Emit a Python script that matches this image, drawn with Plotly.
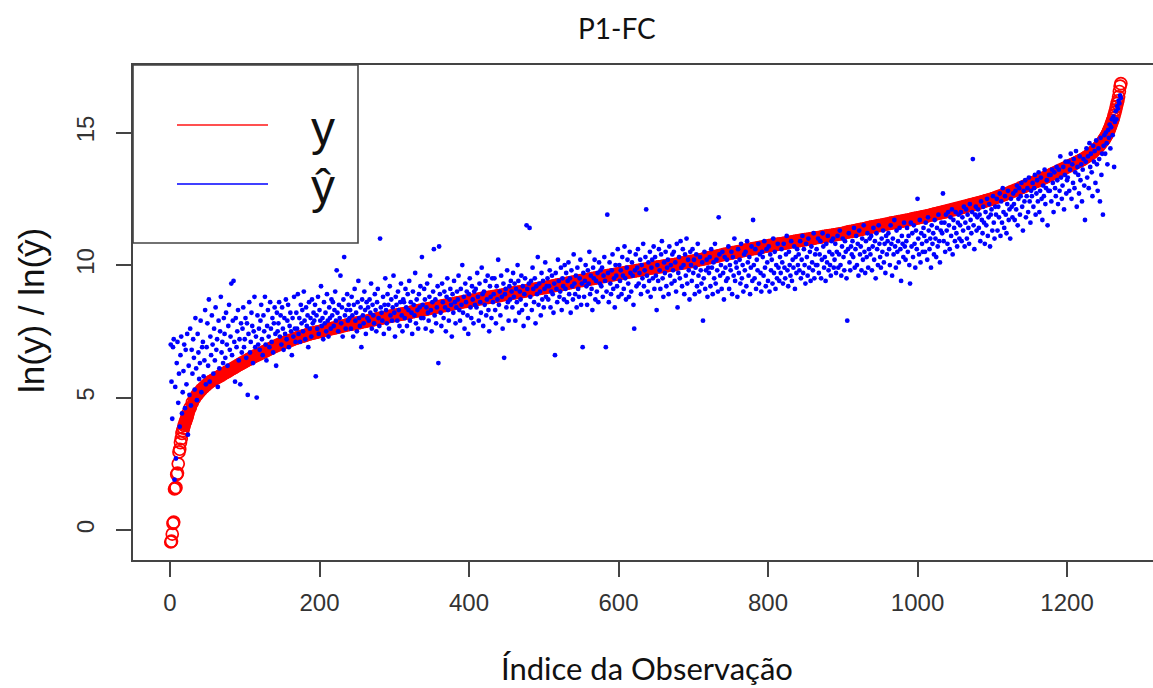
import plotly.graph_objects as go

# ---------------- data ----------------
# observed ln(y), sorted; head: obs 1..24, body: obs 27..1248 every 3rd, tail: obs 1249..1272
y_head = [-0.45, -0.42, -0.15, 0.25, 0.3, 1.55, 1.58, 1.6, 2.1, 2.15, 2.5, 2.95,
          3.05, 3.3, 3.45, 3.65, 3.75, 3.85, 3.95, 4.05, 4.12, 4.2, 4.28, 4.4]
y_body = [
    4.62, 4.82, 4.98, 5.1, 5.2, 5.3, 5.38, 5.46, 5.53, 5.6, 5.65, 5.7, 5.75, 5.8, 5.85, 5.9, 5.95,
    6.0, 6.05, 6.1, 6.15, 6.2, 6.25, 6.3, 6.35, 6.39, 6.44, 6.48, 6.53, 6.57, 6.61, 6.65, 6.69, 6.73,
    6.77, 6.82, 6.86, 6.9, 6.94, 6.98, 7.02, 7.05, 7.08, 7.11, 7.14, 7.17, 7.2, 7.23, 7.26, 7.29, 7.32,
    7.34, 7.37, 7.4, 7.42, 7.44, 7.46, 7.48, 7.5, 7.52, 7.54, 7.56, 7.58, 7.6, 7.62, 7.64, 7.66, 7.68,
    7.7, 7.72, 7.74, 7.76, 7.77, 7.79, 7.81, 7.82, 7.84, 7.86, 7.87, 7.89, 7.91, 7.92, 7.94, 7.96, 7.98,
    8.0, 8.01, 8.03, 8.05, 8.06, 8.08, 8.1, 8.11, 8.13, 8.15, 8.16, 8.18, 8.2, 8.21, 8.23, 8.25, 8.27,
    8.28, 8.3, 8.32, 8.33, 8.35, 8.37, 8.38, 8.4, 8.42, 8.43, 8.45, 8.47, 8.48, 8.5, 8.52, 8.53, 8.55,
    8.57, 8.58, 8.6, 8.62, 8.63, 8.65, 8.66, 8.68, 8.69, 8.71, 8.72, 8.74, 8.75, 8.77, 8.78, 8.79, 8.81,
    8.82, 8.84, 8.85, 8.87, 8.88, 8.9, 8.91, 8.93, 8.94, 8.96, 8.97, 8.99, 9.0, 9.02, 9.03, 9.05, 9.06,
    9.08, 9.09, 9.11, 9.12, 9.14, 9.15, 9.17, 9.18, 9.2, 9.22, 9.23, 9.25, 9.26, 9.28, 9.29, 9.31, 9.33,
    9.35, 9.36, 9.38, 9.39, 9.41, 9.42, 9.44, 9.45, 9.47, 9.49, 9.5, 9.52, 9.53, 9.55, 9.56, 9.58, 9.6,
    9.61, 9.63, 9.64, 9.66, 9.67, 9.69, 9.7, 9.72, 9.73, 9.74, 9.76, 9.77, 9.79, 9.8, 9.82, 9.83, 9.85,
    9.86, 9.88, 9.89, 9.9, 9.92, 9.93, 9.94, 9.96, 9.97, 9.98, 10.0, 10.01, 10.02, 10.04, 10.05, 10.07, 10.08,
    10.1, 10.11, 10.13, 10.14, 10.16, 10.18, 10.2, 10.21, 10.23, 10.25, 10.27, 10.29, 10.3, 10.32, 10.34, 10.36, 10.38,
    10.4, 10.41, 10.43, 10.45, 10.47, 10.48, 10.5, 10.52, 10.53, 10.55, 10.57, 10.58, 10.6, 10.62, 10.63, 10.65, 10.67,
    10.68, 10.7, 10.71, 10.73, 10.74, 10.76, 10.77, 10.79, 10.8, 10.81, 10.83, 10.84, 10.86, 10.87, 10.89, 10.9, 10.91,
    10.93, 10.94, 10.96, 10.97, 10.98, 11.0, 11.01, 11.03, 11.04, 11.05, 11.07, 11.08, 11.1, 11.11, 11.12, 11.14, 11.15,
    11.17, 11.18, 11.2, 11.22, 11.24, 11.26, 11.27, 11.29, 11.31, 11.33, 11.35, 11.36, 11.38, 11.4, 11.42, 11.44, 11.45,
    11.47, 11.49, 11.5, 11.52, 11.54, 11.55, 11.57, 11.59, 11.6, 11.62, 11.64, 11.65, 11.67, 11.69, 11.7, 11.72, 11.74,
    11.76, 11.77, 11.79, 11.81, 11.83, 11.84, 11.86, 11.88, 11.9, 11.92, 11.94, 11.96, 11.98, 12.0, 12.02, 12.04, 12.06,
    12.08, 12.1, 12.12, 12.14, 12.17, 12.19, 12.21, 12.24, 12.26, 12.28, 12.31, 12.33, 12.35, 12.38, 12.4, 12.43, 12.45,
    12.48, 12.51, 12.54, 12.57, 12.6, 12.63, 12.66, 12.69, 12.72, 12.76, 12.79, 12.83, 12.86, 12.9, 12.93, 12.97, 13.01,
    13.04, 13.08, 13.11, 13.15, 13.18, 13.22, 13.26, 13.3, 13.34, 13.38, 13.42, 13.46, 13.5, 13.54, 13.58, 13.62, 13.66,
    13.7, 13.74, 13.78, 13.82, 13.86, 13.9, 13.94, 13.99, 14.04, 14.1, 14.16, 14.22, 14.3, 14.38, 14.46, 14.56, 14.68,
]
y_tail = [14.72, 14.76, 14.8, 14.85, 14.9, 14.96, 15.02, 15.08, 15.15, 15.22, 15.3, 15.38,
          15.46, 15.55, 15.65, 15.75, 15.86, 15.98, 16.1, 16.2, 16.35, 16.55, 16.75, 16.85]

# predicted ln(y-hat) for observations 1..1272
yhat = [
    7.0, 5.6, 4.2, 6.9, 7.2, 1.9, 5.4, 2.7, 6.3, 7.1, 4.8, 5.9, 3.9, 6.6, 7.3, 4.4, 5.2, 6.0, 7.0, 4.6, 6.8, 5.5, 7.4, 3.6,
    6.2, 5.1, 7.6, 4.7, 6.8, 5.9, 7.2, 6.5, 5.3, 8.0, 6.1, 4.9, 7.4, 6.7, 5.7, 6.3, 7.9, 5.2, 6.9, 7.1, 5.8, 6.4, 8.3, 5.5,
    6.9, 7.8, 6.2, 8.7, 5.6, 7.3, 6.6, 8.1, 7.0, 5.9, 7.6, 6.4, 8.4, 6.8, 7.2, 5.4, 7.9, 6.1, 7.5, 8.8, 6.7, 7.1, 6.3, 8.0,
    7.4, 6.5, 8.2, 7.0, 6.2, 7.7, 8.5, 6.8, 7.3, 9.3, 6.6, 7.9, 9.4, 7.1, 5.6, 8.0, 6.9, 7.5, 8.3, 6.4, 7.2, 5.5, 7.8, 6.7,
    7.6, 8.4, 6.9, 7.2, 8.0, 6.5, 7.8, 5.1, 7.4, 8.6, 6.7, 7.1, 8.2, 7.7, 6.3, 7.5, 8.8, 6.9, 7.3, 5.0, 8.1, 7.0, 7.6, 6.8,
    7.9, 8.5, 7.2, 6.6, 8.1, 7.5, 8.8, 7.0, 6.4, 7.7, 8.3, 7.3, 6.9, 8.6, 7.6, 7.1, 8.0, 6.7, 7.8, 8.4, 7.4, 6.2, 8.2, 7.5,
    7.8, 8.6, 7.3, 8.1, 7.0, 8.4, 7.6, 6.8, 8.0, 7.4, 8.7, 7.2, 7.9, 8.5, 6.9, 7.7, 8.2, 7.5, 6.6, 8.0, 7.3, 8.8, 7.6, 7.1,
    8.2, 7.6, 8.9, 7.4, 8.0, 7.1, 8.5, 7.8, 8.3, 7.5, 9.0, 7.9, 7.2, 8.4, 7.7, 8.1, 6.9, 8.6, 7.6, 8.0, 7.3, 8.7, 7.8, 8.2,
    7.9, 8.5, 5.8, 8.1, 7.6, 8.8, 7.4, 8.3, 7.9, 9.2, 7.7, 8.0, 7.2, 8.6, 7.8, 8.2, 7.5, 8.9, 7.9, 7.3, 8.4, 8.0, 7.6, 8.7,
    8.1, 8.6, 7.7, 8.3, 9.0, 7.9, 9.8, 8.2, 7.5, 8.5, 8.0, 9.6, 7.8, 8.4, 7.3, 8.7, 10.3, 8.1, 7.6, 8.3, 8.9, 7.9, 8.5, 8.0,
    8.3, 7.6, 8.8, 8.1, 7.3, 8.5, 9.1, 7.9, 8.2, 7.5, 8.6, 9.4, 8.0, 7.7, 8.4, 6.9, 8.7, 8.1, 7.8, 9.0, 8.3, 7.4, 8.6, 8.0,
    8.4, 7.9, 8.7, 8.2, 9.3, 7.6, 8.5, 8.1, 7.8, 8.9, 8.3, 7.5, 8.6, 9.1, 8.0, 7.7, 11.0, 8.4, 8.2, 7.9, 8.8, 7.4, 8.5, 9.5,
    8.3, 7.8, 8.9, 8.5, 7.6, 9.2, 8.1, 8.7, 7.9, 8.4, 9.6, 8.2, 7.3, 8.8, 8.5, 7.9, 9.0, 8.3, 7.7, 8.6, 9.3, 8.1, 7.5, 8.7,
    8.6, 8.0, 9.1, 8.4, 7.7, 8.9, 8.3, 9.4, 7.9, 8.6, 8.2, 7.4, 9.0, 8.5, 8.1, 9.7, 7.8, 8.7, 8.3, 7.6, 8.9, 8.4, 9.2, 8.0,
    10.3, 8.5, 8.0, 9.1, 8.7, 7.6, 8.4, 9.3, 8.2, 7.9, 8.8, 9.6, 8.3, 7.5, 8.6, 9.0, 10.6, 8.1, 8.7, 7.8, 8.4, 9.2, 6.3, 10.7,
    8.9, 8.2, 7.7, 9.3, 8.6, 8.0, 9.0, 8.4, 7.5, 8.8, 9.5, 8.3, 7.9, 8.7, 9.1, 8.5, 7.3, 8.9, 8.2, 9.4, 8.6, 7.8, 8.4, 9.0,
    8.7, 9.6, 8.3, 7.9, 9.1, 8.5, 10.0, 8.2, 8.8, 7.6, 9.3, 8.6, 9.0, 8.1, 7.4, 8.9, 9.5, 8.4, 8.0, 9.2, 8.7, 7.8, 9.0, 8.5,
    9.1, 8.4, 9.7, 8.8, 7.9, 9.3, 8.6, 8.2, 9.9, 8.9, 7.7, 9.0, 8.5, 9.4, 8.1, 8.7, 9.6, 8.3, 7.5, 9.2, 8.8, 8.0, 9.5, 8.6,
    8.9, 9.5, 8.3, 7.8, 9.2, 8.7, 10.2, 8.5, 9.0, 8.1, 9.6, 8.8, 7.6, 9.3, 6.5, 8.9, 9.1, 8.4, 9.8, 8.6, 7.9, 9.2, 8.7, 9.4,
    9.0, 8.4, 9.7, 8.8, 9.3, 7.9, 9.1, 8.6, 10.0, 9.4, 8.2, 9.0, 8.7, 9.6, 8.3, 9.2, 7.7, 8.9, 9.5, 8.5, 11.5, 9.1, 8.0, 9.3,
    11.4, 8.8, 9.4, 8.3, 9.9, 9.1, 8.6, 9.5, 7.8, 9.2, 8.9, 10.3, 8.5, 9.3, 9.0, 8.1, 9.7, 8.7, 9.4, 8.4, 9.1, 10.1, 8.8, 9.2,
    9.5, 8.7, 9.2, 9.8, 8.4, 9.0, 9.6, 8.9, 8.2, 9.3, 6.6, 9.7, 9.1, 8.6, 10.2, 9.4, 8.8, 9.0, 9.9, 8.3, 9.5, 9.2, 8.7, 10.0,
    9.1, 9.7, 8.6, 9.4, 10.1, 8.9, 9.5, 8.2, 9.8, 9.2, 8.7, 10.4, 9.3, 8.9, 9.6, 8.4, 9.9, 9.1, 8.8, 9.5, 10.2, 8.5, 9.3, 6.9,
    9.7, 8.8, 9.4, 10.0, 9.2, 8.5, 9.8, 9.3, 10.5, 8.9, 9.6, 9.1, 8.3, 9.9, 9.5, 10.2, 8.7, 9.4, 9.0, 9.7, 8.6, 10.1, 9.3, 9.8,
    9.2, 9.9, 8.8, 9.6, 10.3, 9.4, 6.9, 9.0, 11.9, 9.7, 8.6, 10.1, 9.3, 8.9, 9.8, 10.4, 9.1, 9.5, 8.4, 10.0, 9.6, 9.2, 10.6, 8.8,
    10.0, 9.4, 9.8, 8.9, 10.3, 9.6, 9.1, 10.7, 9.5, 8.7, 9.9, 10.2, 9.3, 8.8, 10.5, 9.7, 9.0, 10.1, 9.6, 8.5, 7.6, 9.8, 10.4, 9.2,
    9.9, 10.6, 9.3, 9.7, 10.2, 8.9, 10.0, 9.5, 10.8, 9.2, 9.8, 10.3, 12.1, 9.6, 9.0, 10.1, 9.4, 10.5, 8.8, 9.9, 10.2, 9.5, 10.7, 9.1,
    10.3, 9.6, 8.3, 10.0, 9.4, 10.6, 9.8, 9.1, 10.4, 10.9, 9.5, 8.8, 10.1, 9.7, 10.5, 9.2, 9.9, 10.2, 8.9, 10.7, 9.6, 10.0, 9.3, 10.4,
    9.8, 10.5, 9.4, 10.1, 9.0, 10.8, 8.4, 9.7, 10.3, 9.5, 10.9, 9.9, 9.2, 10.6, 10.0, 8.9, 10.4, 9.6, 11.0, 9.3, 10.2, 9.8, 8.7, 10.5,
    10.0, 9.4, 10.6, 9.7, 10.2, 8.9, 9.9, 10.4, 9.2, 10.8, 9.6, 9.0, 10.3, 9.8, 9.3, 10.1, 7.9, 9.5, 10.5, 9.1, 9.8, 10.2, 8.8, 9.9,
    9.7, 10.3, 9.2, 10.6, 9.9, 8.9, 10.1, 9.5, 10.8, 9.3, 10.2, 9.8, 9.0, 11.8, 10.4, 9.6, 10.0, 9.1, 10.5, 9.7, 8.7, 10.3, 9.9, 9.4,
    10.2, 9.5, 10.7, 9.1, 10.0, 9.8, 10.5, 8.9, 10.3, 9.6, 11.0, 9.4, 10.1, 9.9, 8.8, 10.6, 9.7, 10.2, 9.3, 10.8, 9.5, 10.0, 9.0, 10.4,
    9.8, 10.5, 9.2, 10.9, 10.1, 9.6, 10.3, 8.9, 9.9, 10.7, 9.4, 11.7, 10.0, 9.5, 10.6, 9.1, 10.2, 9.8, 10.8, 9.3, 10.4, 9.7, 9.0, 10.5,
    10.3, 9.6, 10.9, 9.9, 9.2, 10.6, 10.1, 9.4, 10.7, 9.0, 10.4, 9.8, 10.2, 9.3, 11.0, 9.7, 10.5, 9.1, 10.0, 9.5, 10.8, 9.9, 9.4, 10.3,
    9.7, 10.6, 10.1, 9.3, 10.8, 9.9, 9.5, 10.4, 11.1, 9.8, 9.2, 10.5, 10.0, 9.6, 10.9, 9.4, 10.2, 9.9, 10.7, 9.1, 10.3, 9.7, 10.6, 10.0,
    10.4, 9.8, 10.9, 9.5, 10.2, 11.1, 9.7, 10.6, 10.0, 9.3, 10.8, 10.3, 9.6, 11.0, 9.9, 10.5, 9.4, 10.7, 10.1, 9.8, 11.2, 9.5, 10.4, 10.0,
    10.6, 10.0, 11.0, 9.7, 10.4, 10.9, 9.5, 10.2, 11.2, 10.7, 9.9, 10.3, 9.4, 10.8, 10.1, 11.1, 9.8, 10.5, 10.0, 9.6, 10.9, 10.4, 11.0, 9.9,
    10.2, 10.8, 9.7, 10.5, 11.1, 9.9, 10.4, 11.3, 10.0, 9.6, 10.7, 11.0, 10.3, 9.8, 10.9, 10.5, 9.5, 7.9, 10.6, 11.2, 10.1, 9.8, 10.7, 10.4,
    10.9, 10.3, 11.4, 9.9, 10.6, 11.1, 10.0, 10.8, 9.6, 11.3, 10.4, 10.7, 9.8, 11.0, 10.2, 11.5, 10.5, 9.7, 10.9, 10.3, 11.2, 9.9, 10.6, 11.0,
    10.4, 11.1, 9.8, 10.7, 11.4, 10.2, 10.9, 9.5, 11.2, 10.6, 10.0, 11.5, 10.8, 10.3, 9.9, 11.0, 10.5, 11.3, 10.1, 10.8, 9.7, 11.1, 10.4, 10.9,
    11.2, 10.6, 10.0, 11.5, 10.8, 9.6, 11.0, 10.4, 11.7, 10.7, 9.9, 11.3, 10.5, 10.9, 10.1, 11.4, 10.6, 9.4, 11.1, 10.8, 10.3, 11.6, 10.7, 10.2,
    10.9, 11.4, 10.5, 11.1, 10.0, 9.3, 11.6, 10.7, 11.2, 10.3, 11.5, 10.8, 9.9, 11.3, 10.6, 12.5, 11.0, 10.4, 11.7, 10.1, 11.2, 10.8, 10.5, 11.4,
    11.1, 10.5, 11.6, 10.9, 10.2, 11.8, 11.3, 10.6, 11.0, 9.9, 11.5, 10.8, 11.2, 10.4, 11.7, 11.0, 10.3, 11.4, 10.7, 11.9, 10.9, 10.1, 11.3, 11.6,
    11.2, 12.7, 10.9, 11.6, 10.5, 11.9, 11.3, 10.8, 12.0, 11.5, 10.6, 11.8, 11.1, 12.1, 10.4, 11.7, 11.4, 10.9, 12.0, 11.2, 10.7, 11.6, 11.9, 11.0,
    11.5, 12.0, 10.9, 11.8, 11.3, 12.2, 10.7, 11.6, 12.1, 11.0, 11.9, 11.4, 10.8, 12.3, 11.7, 11.2, 12.0, 14.0, 11.5, 10.6, 11.9, 12.2, 11.3, 11.8,
    12.1, 11.4, 11.9, 10.9, 12.4, 11.7, 11.2, 12.2, 11.6, 10.8, 12.0, 11.5, 12.5, 11.1, 11.8, 12.3, 10.7, 11.9, 12.1, 11.3, 12.6, 11.6, 11.0, 12.2,
    11.9, 12.5, 11.3, 12.2, 11.8, 12.7, 11.1, 12.4, 11.6, 12.9, 12.0, 11.4, 12.6, 11.9, 11.2, 12.3, 12.8, 11.7, 12.1, 11.0, 12.5, 12.2, 11.8, 12.7,
    12.3, 11.7, 12.8, 12.1, 13.0, 11.5, 12.5, 12.9, 11.9, 12.6, 13.1, 12.2, 11.3, 12.8, 12.4, 13.2, 11.8, 12.6, 12.9, 12.0, 13.3, 12.4, 11.6, 12.8,
    12.6, 13.1, 12.2, 12.9, 13.4, 11.9, 12.7, 13.2, 12.4, 13.5, 12.0, 12.8, 13.3, 12.5, 11.7, 13.0, 12.6, 13.6, 12.3, 12.9, 13.2, 11.5, 12.8, 13.4,
    12.8, 13.4, 12.4, 13.6, 13.1, 12.0, 13.5, 12.9, 12.6, 13.7, 13.2, 12.3, 13.6, 12.8, 14.1, 13.3, 12.5, 13.0, 13.7, 12.1, 13.4, 13.9, 12.7, 13.2,
    13.3, 13.9, 12.8, 13.6, 14.2, 12.5, 13.8, 13.1, 14.0, 12.9, 13.5, 14.3, 12.2, 13.7, 13.4, 12.7, 14.1, 13.2, 13.8, 12.4, 13.6, 14.0, 13.0, 11.7,
    13.9, 14.4, 13.3, 14.1, 12.9, 14.6, 13.7, 14.2, 13.5, 12.6, 14.5, 13.9, 14.3, 13.1, 14.7, 13.8, 12.8, 14.4, 14.0, 12.4, 14.8, 13.4, 14.2, 11.9,
    14.5, 14.9, 14.2, 15.0, 14.6, 13.8, 15.1, 14.8, 15.3, 14.4, 15.2, 15.5, 14.9, 15.6, 13.7, 15.4, 15.8, 15.5, 16.0, 15.9, 16.2, 16.1, 16.4, 16.3,
]

x_ticks = [0, 200, 400, 600, 800, 1000, 1200]
y_ticks = [0, 5, 10, 15]
title_text = "P1-FC"
x_title = "Índice da Observação"
y_title = "ln(y) / ln(ŷ)"
legend_labels = ["y", "ŷ"]

# ---------------- indices ----------------
idx_head = list(range(1, 1 + len(y_head)))
idx_body = [27 + 3 * i for i in range(len(y_body))]
idx_tail = list(range(1249, 1249 + len(y_tail)))
obs_x = idx_head + idx_body + idx_tail
obs_y = y_head + y_body + y_tail
band = [(a, b) for a, b in zip(obs_x, obs_y) if 17 <= a <= 1262]
pred_x = list(range(1, len(yhat) + 1))

# ---------------- layout helpers ----------------
W, H = 1153, 688
L, R, T, B = 133, 1153, 65, 560


def px(p):
    return (p - L) / (R - L)


def py(p):
    return (B - p) / (B - T)


RED = "#FF0000"
BLUE = "#0000FF"
AX = "#444444"

fig = go.Figure()
fig.add_trace(go.Scatter(x=[a for a, _ in band], y=[b for _, b in band], mode="lines",
                         line=dict(color=RED, width=11), hoverinfo="skip", showlegend=False))
fig.add_trace(go.Scatter(x=obs_x, y=obs_y, mode="markers",
                         marker=dict(symbol="circle-open", size=12, color=RED, line=dict(width=1.7)),
                         hoverinfo="skip", showlegend=False))
fig.add_trace(go.Scatter(x=pred_x, y=yhat, mode="markers",
                         marker=dict(symbol="circle", size=4.8, color=BLUE, line=dict(width=0)),
                         hoverinfo="skip", showlegend=False))

tickfont = dict(family="Liberation Sans, Arial, sans-serif", size=24, color="#333333")
fig.update_xaxes(range=[-49.5, 1315], tickvals=x_ticks, ticks="outside", ticklen=15, tickwidth=1.6,
                 tickcolor=AX, showline=True, linecolor=AX, linewidth=1.6, mirror=True,
                 showgrid=False, zeroline=False, tickfont=tickfont, ticklabelstandoff=5)
fig.update_yaxes(range=[-1.13, 17.55], tickvals=y_ticks, ticks="outside", ticklen=15, tickwidth=1.6,
                 tickcolor=AX, showline=True, linecolor=AX, linewidth=1.6, mirror=False,
                 showgrid=False, zeroline=False, tickfont=tickfont, tickangle=-90, ticklabelstandoff=13)

shapes = [
    dict(type="rect", xref="paper", yref="paper", x0=px(133), x1=px(358), y0=py(243), y1=py(65),
         line=dict(color=AX, width=1.6), fillcolor="white", layer="above"),
    dict(type="line", xref="paper", yref="paper", x0=px(177), x1=px(268), y0=py(125), y1=py(125),
         line=dict(color="#FF5050", width=2.2), layer="above"),
    dict(type="line", xref="paper", yref="paper", x0=px(177), x1=px(268), y0=py(184), y1=py(184),
         line=dict(color="#4040FF", width=2.2), layer="above"),
]

calib = "Lato, Carlito, Calibri, sans-serif"
annotations = [
    dict(text=title_text, xref="paper", yref="paper", x=px(617), y=py(28), xanchor="center", yanchor="middle",
         showarrow=False, font=dict(family=calib, size=28, color="#111111")),
    dict(text=x_title, xref="paper", yref="paper", x=px(647), y=py(668), xanchor="center", yanchor="middle",
         showarrow=False, font=dict(family=calib, size=31, color="#111111")),
    dict(text=y_title, xref="paper", yref="paper", x=px(31), y=py(311), xanchor="center", yanchor="middle",
         textangle=-90, showarrow=False,
         font=dict(family="Liberation Sans, Arial, sans-serif", size=35, color="#111111")),
    dict(text=legend_labels[0], xref="paper", yref="paper", x=px(323), y=py(128), xanchor="center",
         yanchor="middle", showarrow=False,
         font=dict(family="Liberation Sans, Arial, sans-serif", size=48, color="#111111")),
    dict(text=legend_labels[1], xref="paper", yref="paper", x=px(323), y=py(186), xanchor="center",
         yanchor="middle", showarrow=False,
         font=dict(family="Liberation Sans, Arial, sans-serif", size=48, color="#111111")),
]

fig.update_layout(width=W, height=H, margin=dict(l=L, r=W - R, t=T, b=H - B, pad=0),
                  paper_bgcolor="white", plot_bgcolor="white", showlegend=False,
                  shapes=shapes, annotations=annotations, hovermode=False)

fig.write_html("out.html", config={"displayModeBar": False},
               post_script="document.body.style.margin='0px';document.body.style.overflow='hidden';")
